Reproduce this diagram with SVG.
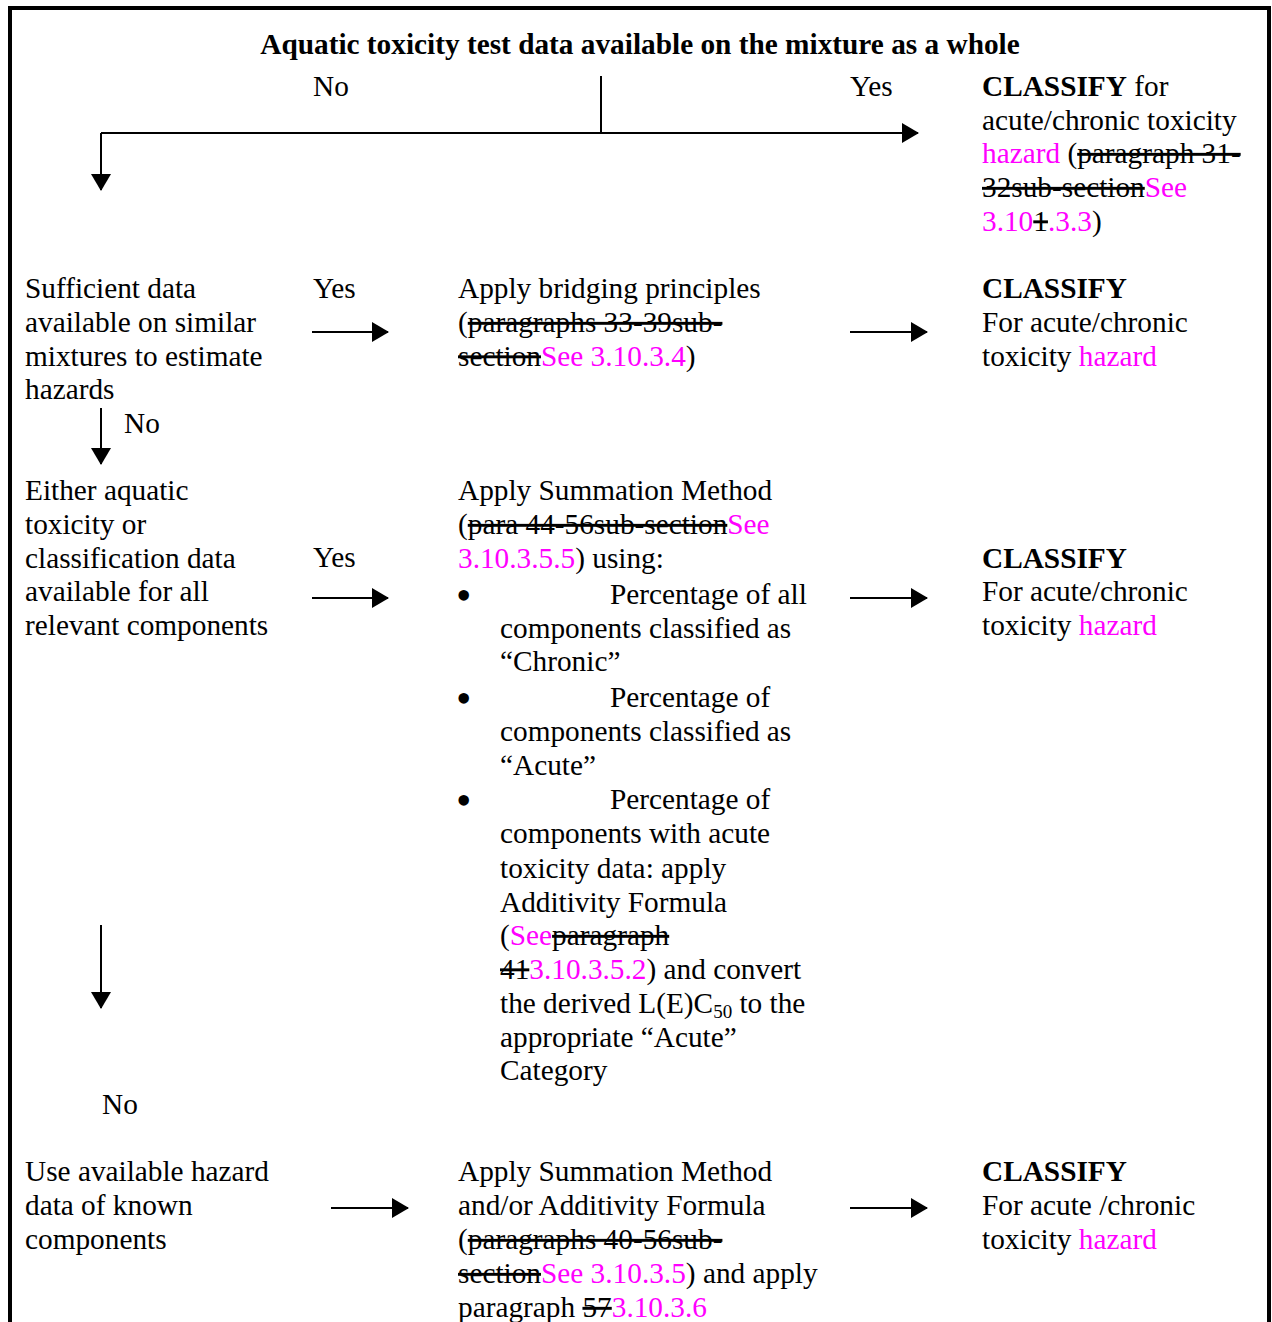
<svg xmlns="http://www.w3.org/2000/svg" width="1272" height="1322" viewBox="0 0 1272 1322">
<style>
text{font-family:"Liberation Serif","Times New Roman",serif;font-size:29.3px;fill:#000}
.b{font-weight:bold}
.m{fill:#FF00FF}
.s{text-decoration:line-through}
.bl{font-size:44px}
.ln{stroke:#000;stroke-width:2;fill:none}
</style>
<defs>
<marker id="ah" markerWidth="17" markerHeight="20" refX="16" refY="10" orient="auto" markerUnits="userSpaceOnUse">
<path d="M0,0 L17,10 L0,20 Z" fill="#000"/>
</marker>
</defs>
<rect x="0" y="0" width="1272" height="1322" fill="#fff"/>
<path d="M10,1322 V8 H1269 V1322" fill="none" stroke="#000" stroke-width="4"/>

<g id="title">
<text class="b" x="640" y="54" text-anchor="middle">Aquatic toxicity test data available on the mixture as a whole</text>
</g>

<g id="connectors">
<line class="ln" x1="601" y1="76" x2="601" y2="133"/>
<line class="ln" x1="101" y1="133" x2="918" y2="133" marker-end="url(#ah)"/>
<line class="ln" x1="101" y1="133" x2="101" y2="190" marker-end="url(#ah)"/>
<line class="ln" x1="312" y1="332" x2="388" y2="332" marker-end="url(#ah)"/>
<line class="ln" x1="850" y1="332" x2="927" y2="332" marker-end="url(#ah)"/>
<line class="ln" x1="101" y1="408" x2="101" y2="464" marker-end="url(#ah)"/>
<line class="ln" x1="312" y1="598" x2="388" y2="598" marker-end="url(#ah)"/>
<line class="ln" x1="850" y1="598" x2="927" y2="598" marker-end="url(#ah)"/>
<line class="ln" x1="101" y1="925" x2="101" y2="1008" marker-end="url(#ah)"/>
<line class="ln" x1="331" y1="1208" x2="408" y2="1208" marker-end="url(#ah)"/>
<line class="ln" x1="850" y1="1208" x2="927" y2="1208" marker-end="url(#ah)"/>
<text x="313" y="96">No</text>
<text x="850" y="96">Yes</text>
<text x="313" y="298">Yes</text>
<text x="124" y="433">No</text>
<text x="313" y="567">Yes</text>
<text x="102" y="1114">No</text>
</g>

<g id="classify1">
<text x="982" y="96"><tspan class="b">CLASSIFY</tspan> for</text>
<text x="982" y="130">acute/chronic toxicity</text>
<text x="982" y="163"><tspan class="m">hazard</tspan> (<tspan class="s">paragraph 31-</tspan></text>
<text x="982" y="197"><tspan class="s">32sub-section</tspan><tspan class="m">See</tspan></text>
<text x="982" y="230.5"><tspan class="m">3.10</tspan><tspan class="s">1</tspan><tspan class="m">.3.3</tspan>)</text>
</g>

<g id="similar">
<text x="25" y="298">Sufficient data</text>
<text x="25" y="332">available on similar</text>
<text x="25" y="365.5">mixtures to estimate</text>
<text x="25" y="399">hazards</text>
</g>

<g id="bridging">
<text x="458" y="298">Apply bridging principles</text>
<text x="458" y="332">(<tspan class="s">paragraphs 33-39sub-</tspan></text>
<text x="458" y="365.5"><tspan class="s">section</tspan><tspan class="m">See 3.10.3.4</tspan>)</text>
</g>

<g id="classify2">
<text class="b" x="982" y="298">CLASSIFY</text>
<text x="982" y="332">For acute/chronic</text>
<text x="982" y="365.5">toxicity <tspan class="m">hazard</tspan></text>
</g>

<g id="components">
<text x="25" y="500">Either aquatic</text>
<text x="25" y="534">toxicity or</text>
<text x="25" y="567.5">classification data</text>
<text x="25" y="601">available for all</text>
<text x="25" y="635">relevant components</text>
</g>

<g id="summation">
<text x="458" y="500">Apply Summation Method</text>
<text x="458" y="534">(<tspan class="s">para 44-56sub-section</tspan><tspan class="m">See</tspan></text>
<text x="458" y="567.5"><tspan class="m">3.10.3.5.5</tspan>) using:</text>
<text class="bl" x="456" y="610">•</text>
<text x="610" y="604">Percentage of all</text>
<text x="500" y="637.5">components classified as</text>
<text x="500" y="671">“Chronic”</text>
<text class="bl" x="456" y="713">•</text>
<text x="610" y="707">Percentage of</text>
<text x="500" y="741">components classified as</text>
<text x="500" y="774.5">“Acute”</text>
<text class="bl" x="456" y="815">•</text>
<text x="610" y="809">Percentage of</text>
<text x="500" y="843">components with acute</text>
<text x="500" y="877.5">toxicity data: apply</text>
<text x="500" y="911.5">Additivity Formula</text>
<text x="500" y="945">(<tspan class="m">See</tspan><tspan class="s">paragraph</tspan></text>
<text x="500" y="978.5"><tspan class="s">41</tspan><tspan class="m">3.10.3.5.2</tspan>) and convert</text>
<text x="500" y="1012.5">the derived L(E)C<tspan font-size="19" dy="5">50</tspan><tspan dy="-5"> to the</tspan></text>
<text x="500" y="1046.5">appropriate “Acute”</text>
<text x="500" y="1080">Category</text>
</g>

<g id="classify3">
<text class="b" x="982" y="567.5">CLASSIFY</text>
<text x="982" y="601">For acute/chronic</text>
<text x="982" y="635">toxicity <tspan class="m">hazard</tspan></text>
</g>

<g id="known">
<text x="25" y="1181">Use available hazard</text>
<text x="25" y="1215">data of known</text>
<text x="25" y="1249">components</text>
</g>

<g id="additivity">
<text x="458" y="1181">Apply Summation Method</text>
<text x="458" y="1215">and/or Additivity Formula</text>
<text x="458" y="1249">(<tspan class="s">paragraphs 40-56sub-</tspan></text>
<text x="458" y="1283"><tspan class="s">section</tspan><tspan class="m">See 3.10.3.5</tspan>) and apply</text>
<text x="458" y="1317">paragraph <tspan class="s">57</tspan><tspan class="m">3.10.3.6</tspan></text>
</g>

<g id="classify4">
<text class="b" x="982" y="1181">CLASSIFY</text>
<text x="982" y="1215">For acute /chronic</text>
<text x="982" y="1249">toxicity <tspan class="m">hazard</tspan></text>
</g>
</svg>
